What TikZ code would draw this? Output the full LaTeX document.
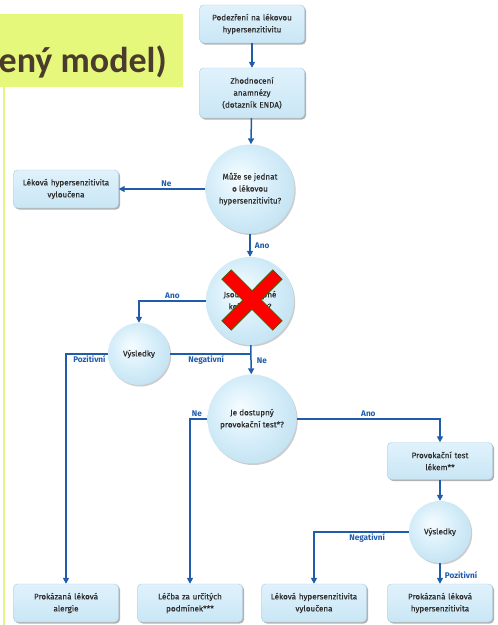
\documentclass[tikz,border=0pt]{standalone}
\usepackage{fontspec}
\setmainfont{Fira Sans}
\newfontfamily\nodef{Fira Sans}[FakeBold=0.35]
\newfontfamily\titlef{Carlito}
\usetikzlibrary{arrows.meta,shadows}
\definecolor{arrblue}{HTML}{1F5CAB}
\definecolor{txtcol}{HTML}{2E2E2E}
\definecolor{titlebg}{HTML}{E6F87C}
\definecolor{titletxt}{HTML}{4A3B2C}
\definecolor{vline}{HTML}{E2F48A}
\definecolor{boxtop}{HTML}{E0F2FC}
\definecolor{boxbot}{HTML}{C9E6F5}
\definecolor{boxedge}{HTML}{A9CBDD}
\definecolor{bubA}{HTML}{F6FCFF}
\definecolor{bubB}{HTML}{D8EFFA}
\definecolor{bubC}{HTML}{C6E4F3}
\definecolor{bubD}{HTML}{9AB4C4}
\definecolor{xred}{HTML}{FF0000}
\definecolor{xedge}{HTML}{4D5A00}
\pgfdeclareradialshading{bubble}{\pgfpoint{-7bp}{7bp}}{color(0bp)=(bubA); color(16bp)=(bubB); color(28bp)=(bubC); color(34bp)=(bubD); color(50bp)=(bubD)}
\tikzset{
  nodetxt/.style={font=\nodef\fontsize{8.1}{12}\selectfont, text=txtcol, align=center},
  boxnode/.style={nodetxt, rounded corners=4pt, minimum width=105pt, minimum height=38pt, text width=102pt, inner sep=0pt,
    top color=boxtop, bottom color=boxbot, draw=boxedge, line width=0.4pt,
    drop shadow={shadow xshift=1.5pt, shadow yshift=-1.5pt, fill=black!55, opacity=0.55}},
  bubnode/.style={nodetxt, circle, minimum size=#1, inner sep=0pt, shading=bubble,
    drop shadow={shadow xshift=1.2pt, shadow yshift=-1.5pt, fill=black!50, opacity=0.4}},
  arr/.style={draw=arrblue, line width=1.5pt, -{Triangle[length=6pt,width=6pt]}},
  conn/.style={draw=arrblue, line width=1.5pt},
  lbl/.style={font=\bfseries\fontsize{8.2}{9}\selectfont, text=arrblue, inner sep=1.2pt}
}
\begin{document}
\begin{tikzpicture}[x=1pt,y=-1pt]
\useasboundingbox (0,0) rectangle (498,625);
\fill[white] (0,0) rectangle (498,625);
% title area
\fill[titlebg] (0,14) rectangle (183,87);
\draw[vline, line width=1.5pt] (4,87) -- (4,625);
\begin{scope}
\clip (0,0) rectangle (183,87);
\node[font=\titlef\bfseries\fontsize{36}{40}\selectfont, text=titletxt, anchor=base east, inner sep=0pt] (title) at (167,72) {ený model)};
\end{scope}
% nodes
\node[boxnode] (b1) at (252,24) {Podezření na lékovou\\hypersenzitivitu};
\node[boxnode, minimum height=50pt] (b2) at (252,93) {Zhodnocení\\anamnézy\\(dotazník ENDA)};
\node[bubnode=89pt] (c1) at (250,189) {Může se jednat\\o lékovou\\hypersenzitivitu?};
\node[boxnode] (b3) at (66,189) {Léková hypersenzitivita\\vyloučena};
\node[bubnode=88pt] (c2) at (250,301) {Jsou dostupné\\kožní testy?};
\node[bubnode=62pt] (c3) at (139,354) {Výsledky};
\node[bubnode=89pt] (c4) at (252,419) {Je dostupný\\provokační test*?};
\node[boxnode, minimum height=37pt] (b4) at (440,461) {Provokační test\\lékem**};
\node[bubnode=62pt] (c5) at (440,532) {Výsledky};
\node[boxnode] (bl1) at (66,603) {Prokázaná léková\\alergie};
\node[boxnode] (bl2) at (190,603) {Léčba za určitých\\podmínek***};
\node[boxnode] (bl3) at (314,603) {Léková hypersenzitivita\\vyloučena};
\node[boxnode] (bl4) at (440,603) {Prokázaná léková\\hypersenzitivita};
% red cross
\filldraw[fill=xred, draw=xedge, line width=0.8pt, shift={(252,300)}]
  (30.06,20.86) -- (20.86,30.06) -- (0,9.19) -- (-20.86,30.06) -- (-30.06,20.86) -- (-9.19,0)
  -- (-30.06,-20.86) -- (-20.86,-30.06) -- (0,-9.19) -- (20.86,-30.06) -- (30.06,-20.86) -- (9.19,0) -- cycle;
% connectors
\draw[arr] (b1) -- (b2);
\draw[arr] (b2) -- (c1);
\draw[arr] (c1) -- node[lbl, above, pos=0.45] {Ne} (b3);
\draw[arr] (c1) -- node[lbl, right, xshift=3pt] {Ano} (c2);
\draw[arr] (c2.west) -| node[lbl, above, pos=0.25] {Ano} (c3.north);
\draw[arr] (c3.west) -| node[lbl, below, pos=0.22] {Pozitivní} (bl1.north);
\coordinate (j1) at (c3.east -| c2.south);
\draw[conn] (c3.east) -- node[lbl, below, pos=0.45] {Negativní} (j1);
\draw[arr] (c2) -- node[lbl, right, pos=0.55, xshift=4pt] {Ne} (c4);
\draw[arr] (c4.west) -| node[lbl, above, pos=0.3] {Ne} (bl2.north);
\draw[arr] (c4.east) -| node[lbl, above, pos=0.25] {Ano} (b4.north);
\draw[arr] (b4) -- (c5);
\draw[arr] (c5.west) -| node[lbl, below, pos=0.22] {Negativní} (bl3.north);
\draw[arr] (c5) -- node[lbl, right, xshift=3pt, pos=0.6] {Pozitivní} (bl4);
\end{tikzpicture}
\end{document}
